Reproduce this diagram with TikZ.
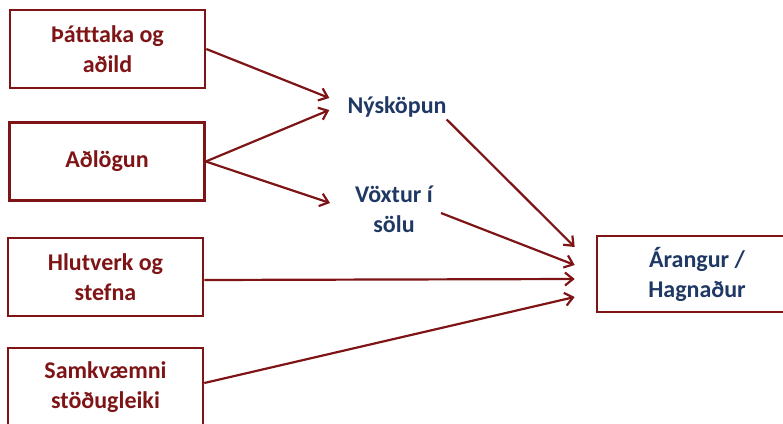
\documentclass[tikz,border=0pt]{standalone}
\usepackage{fontspec}
\setmainfont{Carlito}
\usetikzlibrary{arrows.meta}
\definecolor{darkred}{HTML}{7F1416}
\definecolor{navy}{HTML}{1F3864}
\begin{document}
\begin{tikzpicture}[x=1pt,y=-1pt,
  every node/.style={align=center,font=\fontsize{24}{30}\selectfont\bfseries},
  factor/.style={draw=darkred,line width=2.6pt,text=darkred,minimum width=195pt,minimum height=78pt,inner sep=0pt},
  mid/.style={text=navy,inner sep=0pt},
  link/.style={darkred,line width=2.2pt,-{Straight Barb[length=8pt,width=13pt]}}]
\useasboundingbox (0,0) rectangle (783,423);

\node[factor] (part) at (107.5,49) {Þátttaka og\\aðild};
\node[factor] (adl) at (107,161.5) {Aðlögun};
\node[factor] (hlut) at (105.5,277) {Hlutverk og\\stefna};
\node[factor] (samk) at (105.5,387) {Samkvæmni\\stöðugleiki};
\node[factor,text=navy,minimum width=200pt,minimum height=76pt] (res) at (697,274) {Árangur /\\Hagnaður};

\node[mid] (nys) at (397,107) {Nýsköpun};
\node[mid] (vox) at (394,209) {Vöxtur í\\sölu};

\small
\draw[link] (part.east) -- ([xshift=-18pt,yshift=9pt]nys.west);
\draw[link] (adl.east) -- ([xshift=-18pt,yshift=-3pt]nys.west);
\draw[link] (adl.east) -- ([xshift=-25pt,yshift=6pt]vox.west);
\draw[link] ([yshift=-2pt]nys.south east) -- ([xshift=-21pt,yshift=27pt]res.west);
\draw[link] ([xshift=8pt,yshift=-4pt]vox.east) -- ([xshift=-21pt,yshift=9pt]res.west);
\draw[link] ([yshift=-3pt]hlut.east) -- ([xshift=-21pt,yshift=-5pt]res.west);
\draw[link] ([yshift=4pt]samk.east) -- ([xshift=-21pt,yshift=-23pt]res.west);
\end{tikzpicture}
\end{document}
